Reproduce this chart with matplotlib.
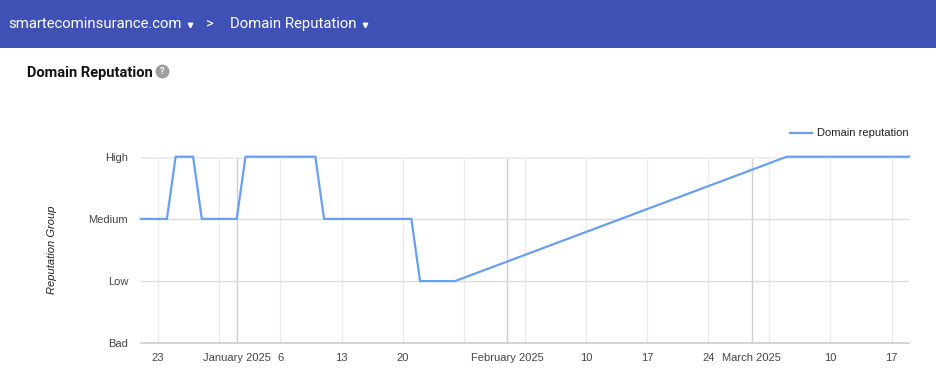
import matplotlib
matplotlib.use("Agg")
import matplotlib.pyplot as plt
from matplotlib.patches import Rectangle
import pandas as pd

# ---------------- data ----------------
levels = ["Bad", "Low", "Medium", "High"]
seg1_start = "2024-12-21"
seg1_values = ["Medium", "Medium", "Medium", "Medium", "High", "High", "High",      # Dec 21-27
               "Medium", "Medium", "Medium", "Medium", "Medium",                    # Dec 28-Jan 1
               "High", "High", "High", "High", "High", "High", "High", "High", "High",  # Jan 2-10
               "Medium", "Medium", "Medium", "Medium", "Medium", "Medium", "Medium",
               "Medium", "Medium", "Medium", "Medium",                              # Jan 11-21
               "Low", "Low", "Low", "Low", "Low"]                                   # Jan 22-26
seg2_start = "2025-03-05"
seg2_values = ["High"] * 15                                                         # Mar 5-19
series_name = "Domain reputation"

tick_dates = ["2024-12-23", "2025-01-01", "2025-01-06", "2025-01-13", "2025-01-20",
              "2025-02-01", "2025-02-10", "2025-02-17", "2025-02-24",
              "2025-03-01", "2025-03-10", "2025-03-17"]
tick_labels = ["23", "January 2025", "6", "13", "20", "February 2025", "10", "17", "24",
               "March 2025", "10", "17"]
week_grid = ["2024-12-23", "2024-12-30", "2025-01-06", "2025-01-13", "2025-01-20",
             "2025-01-27", "2025-02-03", "2025-02-10", "2025-02-17", "2025-02-24",
             "2025-03-03", "2025-03-10", "2025-03-17"]
month_grid = ["2025-01-01", "2025-02-01", "2025-03-01"]
x_start, x_end = "2024-12-21", "2025-03-19"

# ---------------- build ----------------
d1 = pd.date_range(seg1_start, periods=len(seg1_values), freq="D")
d2 = pd.date_range(seg2_start, periods=len(seg2_values), freq="D")
dates = list(d1) + list(d2)
vals = [levels.index(v) for v in seg1_values + seg2_values]

W, H = 937, 390
fig = plt.figure(figsize=(W / 100, H / 100), dpi=100)
fig.patch.set_facecolor("white")

def fx(px):
    return px / W

def fy(py):
    return 1 - py / H

# header bar
fig.add_artist(Rectangle((0, fy(48)), 1, 48 / H, transform=fig.transFigure,
                         facecolor="#3f51b5", edgecolor="none", zorder=0))
hdr_y = fy(24)
fig.text(fx(8), hdr_y, "smartecominsurance.com", color="white", fontsize=10.7,
         family="Roboto", va="center", ha="left")
fig.text(fx(206), hdr_y, ">", color="white", fontsize=10.5, family="Roboto",
         va="center", ha="left")
fig.text(fx(230), hdr_y, "Domain Reputation", color="white", fontsize=10.7,
         family="Roboto", va="center", ha="left")
for px in (190, 365):
    fig.add_artist(plt.Line2D([fx(px)], [fy(25)], transform=fig.transFigure,
                              marker="v", markersize=3.2, color="white", lw=0))

# section title
fig.text(fx(27), fy(73), "Domain Reputation", color="#111111", fontsize=10.5,
         family="Roboto", weight="bold", va="center", ha="left")
fig.add_artist(plt.Line2D([fx(162)], [fy(71)], transform=fig.transFigure,
                          marker="o", markersize=9, color="#9e9e9e", lw=0))
fig.text(fx(162), fy(71), "?", color="white", fontsize=6.5, family="Roboto",
         weight="bold", va="center", ha="center")

# axes
ax_l, ax_r = fx(140.7), fx(909)
ax_b, ax_t = fy(343.3), fy(156.7)
ax = fig.add_axes([ax_l, ax_b, ax_r - ax_l, ax_t - ax_b])
ax.set_facecolor("white")
for s in ax.spines.values():
    s.set_visible(False)

ax.set_xlim(pd.Timestamp(x_start), pd.Timestamp(x_end))
ax.set_ylim(0, 3)

for d in week_grid:
    ax.axvline(pd.Timestamp(d), color="#ebebeb", lw=1, zorder=0)
for d in month_grid:
    ax.axvline(pd.Timestamp(d), color="#cfcfcf", lw=1, zorder=0)
for i in range(1, 3):
    ax.axhline(i, color="#dcdcdc", lw=1, zorder=1)
ax.axhline(3, color="#ececec", lw=2, zorder=1)
ax.axhline(0, color="#cccccc", lw=1.2, zorder=1, clip_on=False)

ax.plot(dates, vals, color="#6a9ef5", lw=1.6, zorder=3, clip_on=False,
        solid_joinstyle="miter")

ax.set_yticks(range(len(levels)))
ax.set_yticklabels(levels)
ax.set_xticks([pd.Timestamp(d) for d in tick_dates])
ax.set_xticklabels(tick_labels)
ax.tick_params(axis="both", length=0, labelsize=8, labelcolor="#444444")
ax.tick_params(axis="y", pad=9)
ax.tick_params(axis="x", pad=7)
for lab in ax.get_xticklabels() + ax.get_yticklabels():
    lab.set_family("Liberation Sans")

fig.text(fx(52), fy(250), "Reputation Group", rotation=90, style="italic",
         fontsize=8, family="Liberation Sans", color="#222222",
         va="center", ha="center")

# legend
leg_y = fy(133)
fig.add_artist(plt.Line2D([fx(790), fx(812)], [leg_y, leg_y], transform=fig.transFigure,
                          color="#6a9ef5", lw=1.6))
fig.text(fx(817), leg_y, series_name, fontsize=8, family="Liberation Sans",
         color="#222222", va="center", ha="left")

fig.savefig("out.png", dpi=100)
